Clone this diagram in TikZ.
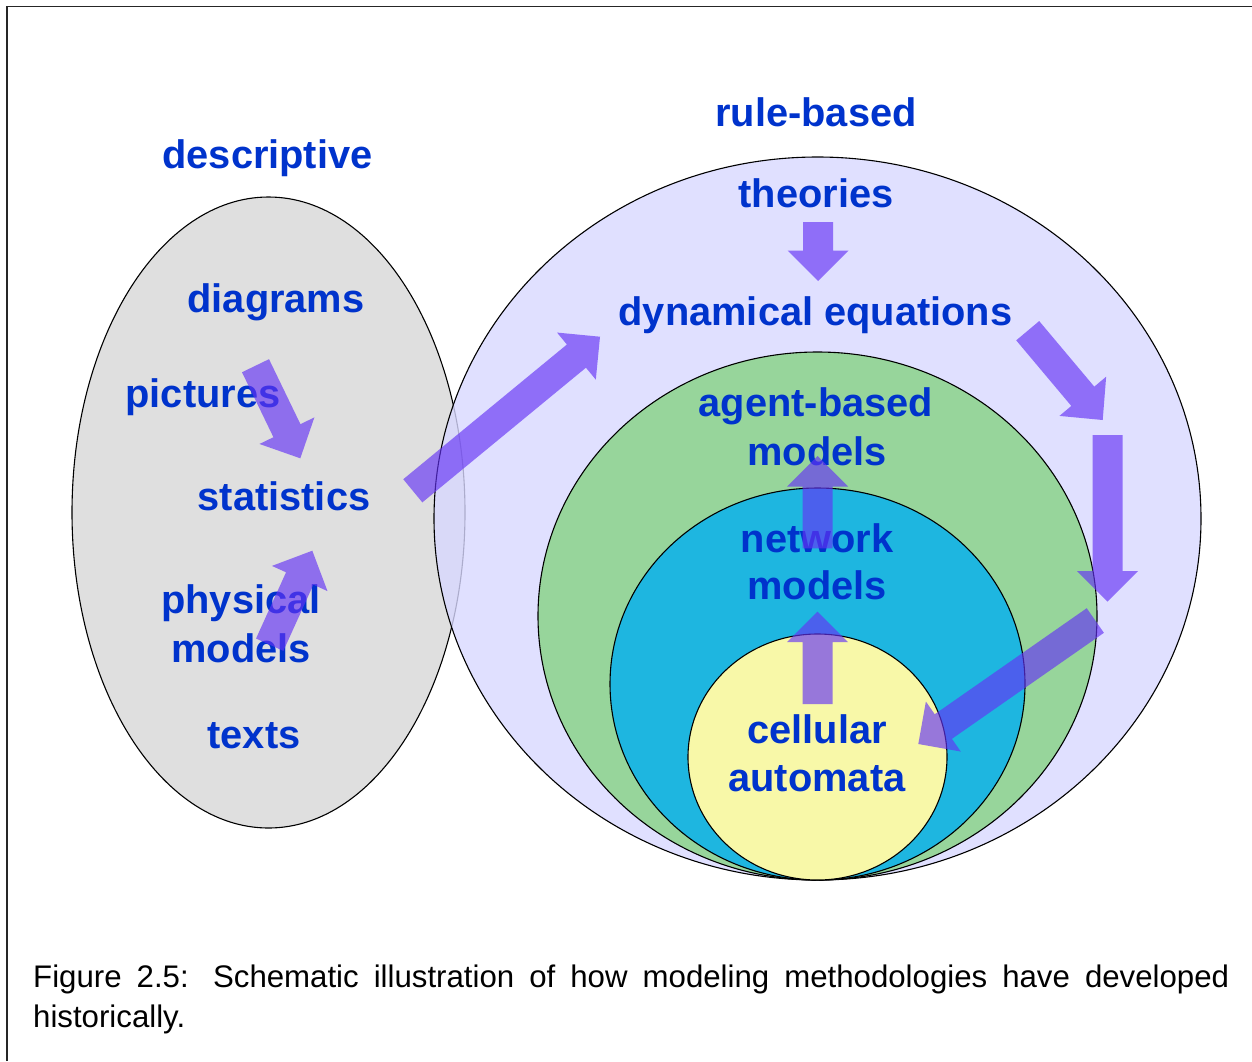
\documentclass[tikz,border=0pt]{standalone}
\usepackage{fontspec}
\setmainfont{Liberation Sans}
\usetikzlibrary{calc}
\definecolor{txtblue}{RGB}{0,51,204}
\definecolor{grayfill}{RGB}{223,223,223}
\definecolor{lavfill}{RGB}{216,216,255}
\definecolor{greenfill}{RGB}{151,213,155}
\definecolor{cyanfill}{RGB}{30,182,224}
\definecolor{yellowfill}{RGB}{248,248,168}
\definecolor{arrowc}{RGB}{100,50,245}
\tikzset{
  lbl/.style={anchor=base, inner sep=0pt, text=txtblue, font=\fontsize{39.8}{48}\selectfont\bfseries},
  captiontext/.style={anchor=base west, inner sep=0pt, text=black, font=\fontsize{31.2}{40.5}\selectfont},
  outline/.style={draw=black, line width=1.1pt},
  fatarr/.style={fill=arrowc, fill opacity=0.65}
}
\newcommand\fatarrow[2]{%
  \fill[fatarr] let \p1=(#1), \p2=(#2),
    \n1={atan2(\y2-\y1,\x2-\x1)},
    \n2={veclen(\x2-\x1,\y2-\y1)-30.5pt} in
    ($(\p1)+(\n1+90:15pt)$) -- ($(\p1)+(\n1:\n2)+(\n1+90:15pt)$)
    -- ($(\p1)+(\n1:\n2)+(\n1+90:30.5pt)$) -- (\p2)
    -- ($(\p1)+(\n1:\n2)+(\n1-90:30.5pt)$) -- ($(\p1)+(\n1:\n2)+(\n1-90:15pt)$)
    -- ($(\p1)+(\n1-90:15pt)$) -- cycle;}
\begin{document}
\begin{tikzpicture}[x=1pt,y=-1pt]
\useasboundingbox (0,0) rectangle (1252,1061);
% frame
\draw[line width=1.3pt, black!85] (7,1061) -- (7,6.5) -- (1252,6.5);
% descriptive ellipse
\draw[outline, fill=grayfill] (268.5,512.5) ellipse [x radius=196.5, y radius=315.5];
% rule-based circles
\fill[lavfill, fill opacity=0.8] (817.5,518.5) ellipse [x radius=383.5, y radius=361.5];
\draw[outline] (817.5,518.5) ellipse [x radius=383.5, y radius=361.5];
\draw[outline, fill=greenfill] (817.5,616) ellipse [x radius=279.5, y radius=264];
\draw[outline, fill=cyanfill] (817.5,684) ellipse [x radius=207.5, y radius=196];
\draw[outline, fill=yellowfill] (817.5,757) ellipse [x radius=129.5, y radius=123];
% labels
\node[lbl] (rule) at (816,126.7) {rule-based};
\node[lbl] (descr) at (267.5,168.5) {descriptive};
\node[lbl] (theo) at (816,207) {theories};
\node[lbl] (dyn) at (815.5,325.5) {dynamical equations};
\node[lbl] (diag) at (276,312.5) {diagrams};
\node[lbl] (pict) at (203,407.5) {pictures};
\node[lbl] (stat) at (284,510.5) {statistics};
\node[lbl] (phys) at (241,613) {physical};
\node[lbl] (physm) at (241,662) {models};
\node[lbl] (texts) at (254,748.5) {texts};
\node[lbl] (agent) at (816,416.7) {agent-based};
\node[lbl] (agentm) at (817,465) {models};
\node[lbl] (net) at (817,552) {network};
\node[lbl] (netm) at (817,599.5) {models};
\node[lbl] (cell) at (817,743.5) {cellular};
\node[lbl] (cellm) at (817,791) {automata};
% caption
\node[captiontext] (cap1) at (33,987) {\makebox[1196pt][s]{Figure 2.5: Schematic illustration of how modeling methodologies have developed}};
\node[captiontext] (cap2) at (33,1027.5) {historically.};
% arrow end points
\coordinate (a1t) at (255.5,365.7);  \coordinate (a1h) at (300.3,458.3);
\coordinate (a2t) at (269.7,644.7);  \coordinate (a2h) at (312.3,550.7);
\coordinate (a3t) at (412.8,490.8);  \coordinate (a3h) at (600,336.7);
\coordinate (a4t) at (818,222);      \coordinate (a4h) at (818,281);
\coordinate (a5t) at (1027.7,330.7); \coordinate (a5h) at (1102.7,420);
\coordinate (a6t) at (1107.5,435);   \coordinate (a6h) at (1107.5,601.7);
\coordinate (a7t) at (1095.3,620.5); \coordinate (a7h) at (918.3,744);
\coordinate (a8t) at (817.5,704);    \coordinate (a8h) at (817.5,611.7);
\coordinate (a9t) at (817.5,548.3);  \coordinate (a9h) at (817.5,456);
\fatarrow{a1t}{a1h}
\fatarrow{a2t}{a2h}
\fatarrow{a3t}{a3h}
\fatarrow{a4t}{a4h}
\fatarrow{a5t}{a5h}
\fatarrow{a6t}{a6h}
\fatarrow{a7t}{a7h}
\fatarrow{a8t}{a8h}
\fatarrow{a9t}{a9h}
\end{tikzpicture}
\end{document}
